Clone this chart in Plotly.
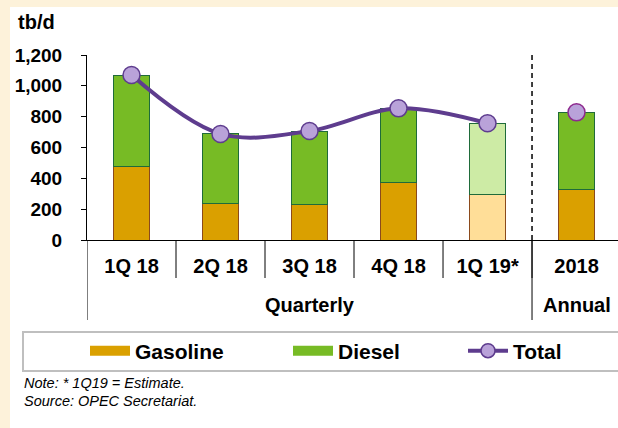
import plotly.graph_objects as go

# ---------------- data ----------------
categories = ["1Q 18", "2Q 18", "3Q 18", "4Q 18", "1Q 19*", "2018"]
groups = ["Quarterly", "Quarterly", "Quarterly", "Quarterly", "Quarterly", "Annual"]
gasoline = [475, 238, 229, 376, 296, 329]
diesel = [595, 450, 478, 478, 461, 499]
total_quarterly_cats = ["1Q 18", "2Q 18", "3Q 18", "4Q 18", "1Q 19*"]
total_quarterly = [1070, 688, 707, 854, 757]
total_annual_cats = ["2018"]
total_annual = [828]
estimate = [False, False, False, False, True, False]
y_ticks = [0, 200, 400, 600, 800, 1000, 1200]

# ---------------- styles ----------------
FONT = "Arial, Liberation Sans, sans-serif"
GAS = "#DAA000"
GAS_EST = "#FFDE98"
GAS_LINE = "#8B4A1C"
DSL = "#77BB25"
DSL_EST = "#CDEBA5"
DSL_LINE = "#1F6B3A"
TOT_LINE = "#5E3C8E"
TOT_FILL = "#B9A2D9"
CREAM = "#FDF2DA"

# plot area in pixels
W, H = 618, 428
L, R, T, B = 87, 0, 55, 188
PW = W - L - R
PH = H - T - B
PLOT_BOTTOM = H - B


def px_x(px):
    return (px - L) / PW


def px_y(py):
    return (PLOT_BOTTOM - py) / PH


fig = go.Figure()

fig.add_trace(go.Bar(
    x=categories, y=gasoline, name="Gasoline", showlegend=False,
    legendgroup="gas", width=0.4,
    marker=dict(color=[GAS_EST if e else GAS for e in estimate],
                line=dict(color=GAS_LINE, width=1)),
))
fig.add_trace(go.Bar(
    x=categories, y=diesel, name="Diesel", showlegend=False,
    legendgroup="dsl", width=0.4,
    marker=dict(color=[DSL_EST if e else DSL for e in estimate],
                line=dict(color=DSL_LINE, width=1)),
))
fig.add_trace(go.Scatter(
    x=total_quarterly_cats, y=total_quarterly, name="Total", mode="lines+markers",
    legendgroup="tot", showlegend=False,
    line=dict(color=TOT_LINE, width=4, shape="spline", smoothing=1),
    marker=dict(size=17, color=TOT_FILL, line=dict(color=TOT_LINE, width=1.5)),
))
fig.add_trace(go.Scatter(
    x=total_annual_cats, y=total_annual, name="Total", mode="markers",
    legendgroup="tot", showlegend=False,
    marker=dict(size=17, color=TOT_FILL, line=dict(color="#8E2A8E", width=1.5)),
))

# legend-only entries (wide swatches)
fig.add_trace(go.Scatter(
    x=[None], y=[None], name="Gasoline", mode="lines", legendgroup="gas",
    legend="legend", line=dict(color=GAS, width=10)))
fig.add_trace(go.Scatter(
    x=[None], y=[None], name="Diesel", mode="lines", legendgroup="dsl",
    legend="legend2", line=dict(color=DSL, width=10)))
fig.add_trace(go.Scatter(
    x=[None], y=[None], name="Total", mode="lines+markers", legendgroup="tot",
    legend="legend3", line=dict(color=TOT_LINE, width=4),
    marker=dict(size=14, color=TOT_FILL, line=dict(color=TOT_LINE, width=1.5))))

n = len(categories)
shapes = []
# white panel
shapes.append(dict(type="rect", xref="paper", yref="paper", layer="below",
                   x0=px_x(10), x1=px_x(W + 20), y0=px_y(H + 20), y1=px_y(7),
                   fillcolor="white", line=dict(width=0)))
# legend box
shapes.append(dict(type="rect", xref="paper", yref="paper", layer="below",
                   x0=px_x(23), x1=px_x(W + 10), y0=px_y(371), y1=px_y(332),
                   fillcolor="white", line=dict(color="#BFBFBF", width=2)))
# inner category dividers
for i in range(n - 1):
    shapes.append(dict(type="line", xref="x", yref="paper", x0=i + 0.5, x1=i + 0.5,
                       y0=0, y1=px_y(278), line=dict(color="black", width=1)))
# group dividers (long) and dashed separator
boundaries = [-0.5] + [i + 0.5 for i in range(n - 1) if groups[i] != groups[i + 1]]
for b in boundaries:
    shapes.append(dict(type="line", xref="x", yref="paper", x0=b, x1=b,
                       y0=0, y1=px_y(320), line=dict(color="black", width=1)))
for b in boundaries[1:]:
    shapes.append(dict(type="line", xref="x", yref="paper", x0=b, x1=b,
                       y0=0, y1=px_y(52), line=dict(color="black", width=1.5, dash="5px,4px")))

annotations = []
# group labels
seen = []
for g in groups:
    if g not in seen:
        seen.append(g)
for g in seen:
    idx = [i for i, gg in enumerate(groups) if gg == g]
    annotations.append(dict(text=g, xref="x", yref="paper",
                            x=(idx[0] + idx[-1]) / 2, y=px_y(305),
                            showarrow=False, xanchor="center", yanchor="middle",
                            font=dict(family=FONT, size=20, color="black", weight="bold")))
annotations.append(dict(text="tb/d", xref="paper", yref="paper", x=px_x(16), y=px_y(22),
                        showarrow=False, xanchor="left", yanchor="middle",
                        font=dict(family=FONT, size=20, color="black", weight="bold")))
annotations.append(dict(text="Note: * 1Q19 = Estimate.", xref="paper", yref="paper",
                        x=px_x(22), y=px_y(383), showarrow=False, xanchor="left", yanchor="middle",
                        font=dict(family=FONT, size=14.5, color="black", style="italic")))
annotations.append(dict(text="Source: OPEC Secretariat.", xref="paper", yref="paper",
                        x=px_x(22), y=px_y(401), showarrow=False, xanchor="left", yanchor="middle",
                        font=dict(family=FONT, size=14.5, color="black", style="italic")))

legend_common = dict(orientation="h", yanchor="middle", xanchor="left", y=px_y(351),
                     bgcolor="rgba(0,0,0,0)", borderwidth=0, itemwidth=40,
                     font=dict(family=FONT, size=21, color="black", weight="bold"))

fig.update_layout(
    width=W, height=H, autosize=False,
    margin=dict(l=L, r=R, t=T, b=B, pad=0),
    paper_bgcolor=CREAM, plot_bgcolor="rgba(0,0,0,0)",
    barmode="stack", bargap=0.6,
    showlegend=True,
    legend=dict(x=px_x(85), **legend_common),
    legend2=dict(x=px_x(288), **legend_common),
    legend3=dict(x=px_x(463), **legend_common),
    shapes=shapes, annotations=annotations,
    xaxis=dict(type="category", categoryorder="array", categoryarray=categories,
               range=[-0.5, n - 0.534], showline=True, linecolor="black", linewidth=1,
               ticks="", ticklabelstandoff=8, showgrid=False, zeroline=False,
               tickfont=dict(family=FONT, size=20, color="black", weight="bold")),
    yaxis=dict(range=[0, 1200], tickvals=y_ticks, tickformat=",", showline=True,
               linecolor="black", linewidth=1, ticks="outside", ticklen=5, tickcolor="black",
               ticklabelstandoff=15, showgrid=False, zeroline=False,
               tickfont=dict(family=FONT, size=19, color="black", weight="bold")),
)

fig.write_html("out.html", config={"displayModeBar": False},
               post_script="document.body.style.margin='0';document.body.style.padding='0';")
